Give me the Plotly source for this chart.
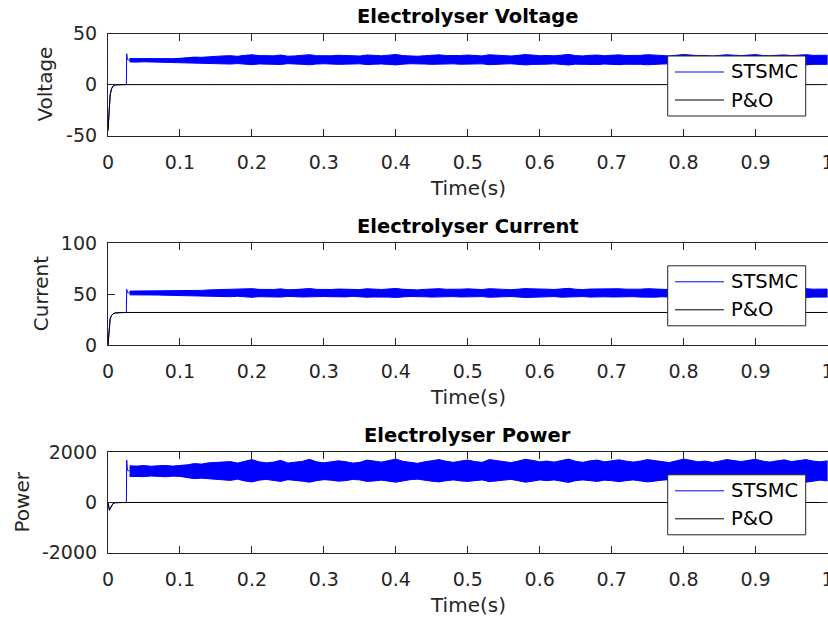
import numpy as np
import plotly.graph_objects as go

# ---------------------------------------------------------------------------
# Data
# ---------------------------------------------------------------------------
# Start-up transient (both controllers share it until the STSMC switch-on)
t_po = [0.0, 0.001, 0.002, 0.003, 0.005, 0.007, 0.010, 0.015, 0.020, 1.0]
po_voltage = [-45, -30, -18, -10, -4, -1.5, -0.3, 0, 0, 0]
po_current = [0, 10, 20, 26, 29, 30.6, 31.5, 31.9, 32, 32]
po_power = [0, -250, -310, -240, -110, -40, -8, 0, 0, 0]

t_st_start = [0.0, 0.001, 0.002, 0.003, 0.005, 0.007, 0.010, 0.015, 0.0255, 0.026, 0.027, 0.030]
st_voltage_start = [-45, -30, -18, -10, -4, -1.5, -0.3, 0, 0, 30.2, 24.5, 23.8]
st_current_start = [0, 10, 20, 26, 29, 30.6, 31.5, 31.9, 32, 54.8, 51.5, 51.2]
st_power_start = [0, -250, -310, -240, -110, -40, -8, 0, 0, 1693, 1280, 1255]

# STSMC steady-state ripple band: upper / lower envelope, one sample every 10 ms from 0.03 s
st_voltage_hi = [
    25.5, 25.4, 25.6, 25.3, 25.5, 25.6, 25.4, 25.7,
    26.4, 26.9, 26.7, 27.3, 27.5,
    28.1, 28.3, 27.7, 28.6, 29.2, 28.4, 28.0, 28.2, 28.9, 27.8, 28.1, 28.5, 29.3, 28.3, 27.9,
    28.2, 28.7, 28.4, 27.8, 28.0, 29.0, 28.5, 28.2, 28.8, 29.5, 28.4, 28.0, 27.7, 28.3, 28.6, 29.1, 28.4, 28.1, 28.5, 28.9,
    28.3, 28.1, 29.2, 28.7, 28.4, 28.0, 28.6, 29.4, 28.9, 28.3, 28.5, 28.2, 28.8, 29.6, 28.4, 28.1, 28.7, 28.9, 28.3, 28.6,
    29.1, 28.5, 28.2, 28.6, 29.3, 28.8, 28.4, 28.1, 28.7, 29.5, 28.9, 28.3, 28.5, 28.0, 28.6,
    29.2, 28.8, 28.4, 28.9, 29.4, 28.5, 28.2, 28.7, 29.0, 28.4, 28.8, 29.3, 28.6, 28.3, 28.7,
]
st_voltage_lo = [
    22.2, 22.0, 22.3, 22.1, 21.9, 22.2, 22.1, 22.0,
    21.4, 21.0, 21.2, 20.7, 20.5,
    20.3, 20.1, 20.6, 19.9, 19.5, 20.2, 20.4, 20.0, 19.7, 20.5, 20.2, 19.8, 19.4, 20.1, 20.4,
    20.2, 19.8, 20.0, 20.5, 20.3, 19.6, 19.9, 20.2, 19.7, 19.3, 20.0, 20.4, 20.6, 20.1, 19.8, 19.5, 20.0, 20.3, 19.9, 19.6,
    20.1, 20.3, 19.5, 19.8, 20.1, 20.4, 19.9, 19.3, 19.7, 20.2, 20.0, 20.3, 19.7, 19.2, 20.0, 20.3, 19.8, 19.6, 20.1, 19.9,
    19.5, 19.9, 20.2, 19.8, 19.4, 19.7, 20.1, 20.3, 19.8, 19.2, 19.6, 20.1, 19.9, 20.4, 19.8,
    19.4, 19.7, 20.0, 19.6, 19.3, 19.9, 20.2, 19.7, 19.5, 20.0, 19.7, 19.3, 19.8, 20.1, 19.8,
]

st_current_hi = [
    53.0, 53.1, 52.9, 53.2, 53.0, 52.8, 53.1, 53.0,
    53.5, 53.9, 53.7, 54.2, 54.4,
    54.5, 54.8, 54.3, 55.0, 55.4, 54.7, 54.4, 54.6, 55.2, 54.3, 54.5, 54.9, 55.5, 54.7, 54.4,
    54.6, 55.0, 54.8, 54.3, 54.5, 55.3, 54.9, 54.6, 55.1, 55.6, 54.8, 54.5, 54.2, 54.7, 55.0, 55.4, 54.8, 54.5, 54.9, 55.2,
    54.7, 54.5, 55.4, 55.0, 54.8, 54.4, 54.9, 55.5, 55.2, 54.7, 54.9, 54.6, 55.1, 55.7, 54.8, 54.5, 55.0, 55.2, 54.7, 54.9,
    55.3, 54.9, 54.6, 54.9, 55.4, 55.1, 54.8, 54.5, 55.0, 55.6, 55.2, 54.7, 54.9, 54.5, 54.9,
    55.4, 55.1, 54.8, 55.2, 55.5, 54.9, 54.6, 55.0, 55.3, 54.8, 55.1, 55.4, 54.9, 54.7, 55.0,
]
st_current_lo = [
    49.3, 49.2, 49.4, 49.2, 49.1, 49.4, 49.3, 49.2,
    48.7, 48.3, 48.5, 48.1, 47.9,
    47.7, 47.5, 47.9, 47.3, 46.9, 47.5, 47.8, 47.4, 47.1, 47.8, 47.5, 47.2, 46.8, 47.4, 47.7,
    47.5, 47.1, 47.3, 47.8, 47.6, 47.0, 47.2, 47.5, 47.1, 46.7, 47.3, 47.7, 47.9, 47.4, 47.1, 46.9, 47.3, 47.6, 47.2, 47.0,
    47.4, 47.6, 46.9, 47.1, 47.4, 47.7, 47.2, 46.7, 47.0, 47.5, 47.3, 47.6, 47.0, 46.6, 47.3, 47.6, 47.1, 46.9, 47.4, 47.2,
    46.9, 47.2, 47.5, 47.1, 46.8, 47.0, 47.4, 47.6, 47.1, 46.6, 46.9, 47.4, 47.2, 47.7, 47.1,
    46.8, 47.0, 47.3, 46.9, 46.7, 47.2, 47.5, 47.0, 46.8, 47.3, 47.0, 46.7, 47.1, 47.4, 47.1,
]

st_power_hi = [
    1460, 1450, 1470, 1445, 1465, 1475, 1450, 1460,
    1500, 1550, 1530, 1580, 1600,
    1590, 1630, 1570, 1650, 1710, 1620, 1580, 1610, 1680, 1570, 1600, 1640, 1720, 1620, 1580,
    1610, 1660, 1630, 1570, 1600, 1690, 1650, 1610, 1670, 1730, 1640, 1600, 1560, 1620, 1660, 1710, 1640, 1600, 1650, 1690,
    1630, 1600, 1710, 1660, 1630, 1590, 1650, 1720, 1680, 1620, 1650, 1610, 1670, 1730, 1640, 1600, 1660, 1690, 1620, 1650,
    1700, 1650, 1610, 1650, 1710, 1670, 1630, 1590, 1660, 1730, 1680, 1620, 1650, 1600, 1650,
    1710, 1670, 1630, 1680, 1720, 1650, 1610, 1660, 1700, 1630, 1670, 1710, 1650, 1620, 1660,
]
st_power_lo = [
    1040, 1050, 1030, 1055, 1040, 1025, 1050, 1040,
    990, 950, 970, 930, 910,
    900, 880, 930, 860, 820, 890, 920, 870, 840, 910, 880, 850, 810, 870, 910,
    890, 850, 870, 920, 900, 840, 860, 890, 850, 810, 870, 910, 930, 880, 850, 820, 870, 900, 860, 840,
    880, 900, 830, 860, 890, 920, 870, 810, 850, 900, 870, 900, 850, 800, 870, 900, 860, 840, 890, 870,
    830, 870, 900, 860, 820, 850, 890, 910, 860, 800, 840, 890, 870, 920, 860,
    820, 850, 880, 840, 810, 870, 900, 850, 830, 880, 850, 810, 860, 890, 860,
]

x_ticks = [0, 0.1, 0.2, 0.3, 0.4, 0.5, 0.6, 0.7, 0.8, 0.9, 1]
x_tick_text = ["0", "0.1", "0.2", "0.3", "0.4", "0.5", "0.6", "0.7", "0.8", "0.9", "1"]

panels = [
    dict(title="Electrolyser Voltage", ylabel="Voltage", yrange=[-50, 50],
         yticks=[-50, 0, 50], ytext=["-50", "0", "50"],
         st_start=st_voltage_start, hi=st_voltage_hi, lo=st_voltage_lo, po=po_voltage),
    dict(title="Electrolyser Current", ylabel="Current", yrange=[0, 100],
         yticks=[0, 50, 100], ytext=["0", "50", "100"],
         st_start=st_current_start, hi=st_current_hi, lo=st_current_lo, po=po_current),
    dict(title="Electrolyser Power", ylabel="Power", yrange=[-2000, 2000],
         yticks=[-2000, 0, 2000], ytext=["-2000", "0", "2000"],
         st_start=st_power_start, hi=st_power_hi, lo=st_power_lo, po=po_power),
]

series_names = ["STSMC", "P&O"]
series_colors = ["#0000ff", "#000000"]

# ---------------------------------------------------------------------------
# Layout geometry (pixels in a 828 x 625 canvas)
# ---------------------------------------------------------------------------
W, H = 828, 625
AX_LEFT, AX_RIGHT = 108, 827.5
AX_TOPS = [33.5, 243.3, 452.3]
AX_BOTTOMS = [135.7, 345.0, 552.7]
YLABEL_X = [45, 41, 21]


def px(x):
    return x / W


def py(y):
    return 1 - y / H


FONT = "DejaVu Sans"
AXIS_GRAY = "#262626"

fig = go.Figure()
shapes = []
annotations = []

for i, p in enumerate(panels):
    k = "" if i == 0 else str(i + 1)
    xa, ya = "x" + k, "y" + k

    # STSMC: start-up path + ripple band
    fig.add_trace(go.Scatter(
        x=t_st_start, y=p["st_start"], mode="lines", xaxis=xa, yaxis=ya,
        line=dict(color=series_colors[0], width=1), showlegend=False, hoverinfo="skip"))
    t_hi = np.linspace(0.03, 1.0, len(p["hi"]))
    t_lo = np.linspace(0.03, 1.0, len(p["lo"]))
    band_x = list(t_hi) + list(t_lo[::-1])
    band_y = list(p["hi"]) + list(p["lo"][::-1])
    fig.add_trace(go.Scatter(
        x=band_x, y=band_y, mode="lines", fill="toself", fillcolor=series_colors[0],
        xaxis=xa, yaxis=ya, line=dict(color=series_colors[0], width=1),
        showlegend=False, hoverinfo="skip"))
    # P&O
    fig.add_trace(go.Scatter(
        x=t_po, y=p["po"], mode="lines", xaxis=xa, yaxis=ya,
        line=dict(color=series_colors[1], width=1), showlegend=False, hoverinfo="skip"))

    top, bot = AX_TOPS[i], AX_BOTTOMS[i]
    common = dict(
        showline=True, mirror="ticks", linecolor=AXIS_GRAY, linewidth=1.2,
        ticks="inside", ticklen=7, tickwidth=1.3, tickcolor=AXIS_GRAY,
        showgrid=False, zeroline=False, ticklabeloverflow="allow", automargin=False,
        tickfont=dict(family=FONT, size=19, color=AXIS_GRAY),
    )
    fig.update_layout(**{
        "xaxis" + k: dict(
            domain=[px(AX_LEFT), px(AX_RIGHT)], range=[0, 1], anchor=ya,
            tickvals=x_ticks, ticktext=x_tick_text, ticklabelstandoff=9,
            **common),
        "yaxis" + k: dict(
            domain=[py(bot), py(top)], range=p["yrange"], anchor=xa,
            tickvals=p["yticks"], ticktext=p["ytext"], ticklabelstandoff=6,
            **common),
    })

    # Title, x label, y label
    annotations.append(dict(
        text="<b>%s</b>" % p["title"], x=px((AX_LEFT + AX_RIGHT) / 2), y=py(top - 17),
        xref="paper", yref="paper", showarrow=False, xanchor="center", yanchor="middle",
        font=dict(family=FONT, size=19.5, color="#000000")))
    annotations.append(dict(
        text="Time(s)", x=px((AX_LEFT + AX_RIGHT) / 2), y=py(bot + 52),
        xref="paper", yref="paper", showarrow=False, xanchor="center", yanchor="middle",
        font=dict(family=FONT, size=20, color=AXIS_GRAY)))
    annotations.append(dict(
        text=p["ylabel"], x=px(YLABEL_X[i]), y=py((top + bot) / 2), textangle=-90,
        xref="paper", yref="paper", showarrow=False, xanchor="center", yanchor="middle",
        font=dict(family=FONT, size=20, color=AXIS_GRAY)))

    # Legend box
    lg_top = top + 22.5
    lg_left, lg_right = 667.7, 805.7
    shapes.append(dict(
        type="rect", xref="paper", yref="paper",
        x0=px(lg_left), x1=px(lg_right), y0=py(lg_top), y1=py(lg_top + 60),
        line=dict(color=AXIS_GRAY, width=1), fillcolor="white", layer="above"))
    for j, name in enumerate(series_names):
        row_y = lg_top + 16 + 28 * j
        shapes.append(dict(
            type="line", xref="paper", yref="paper",
            x0=px(675), x1=px(724), y0=py(row_y), y1=py(row_y),
            line=dict(color=series_colors[j], width=1), layer="above"))
        annotations.append(dict(
            text=name, x=px(729), y=py(row_y), xref="paper", yref="paper",
            showarrow=False, xanchor="left", yanchor="middle",
            font=dict(family=FONT, size=19.5, color="#000000")))

fig.update_layout(
    width=W, height=H, margin=dict(l=0, r=0, t=0, b=0, pad=0, autoexpand=False),
    paper_bgcolor="white", plot_bgcolor="white",
    showlegend=False, shapes=shapes, annotations=annotations,
)

# the page body gets no default margin so the figure sits at the window origin
fig.write_html(
    "out.html",
    post_script="document.body.style.margin='0px';document.body.style.padding='0px';",
)
